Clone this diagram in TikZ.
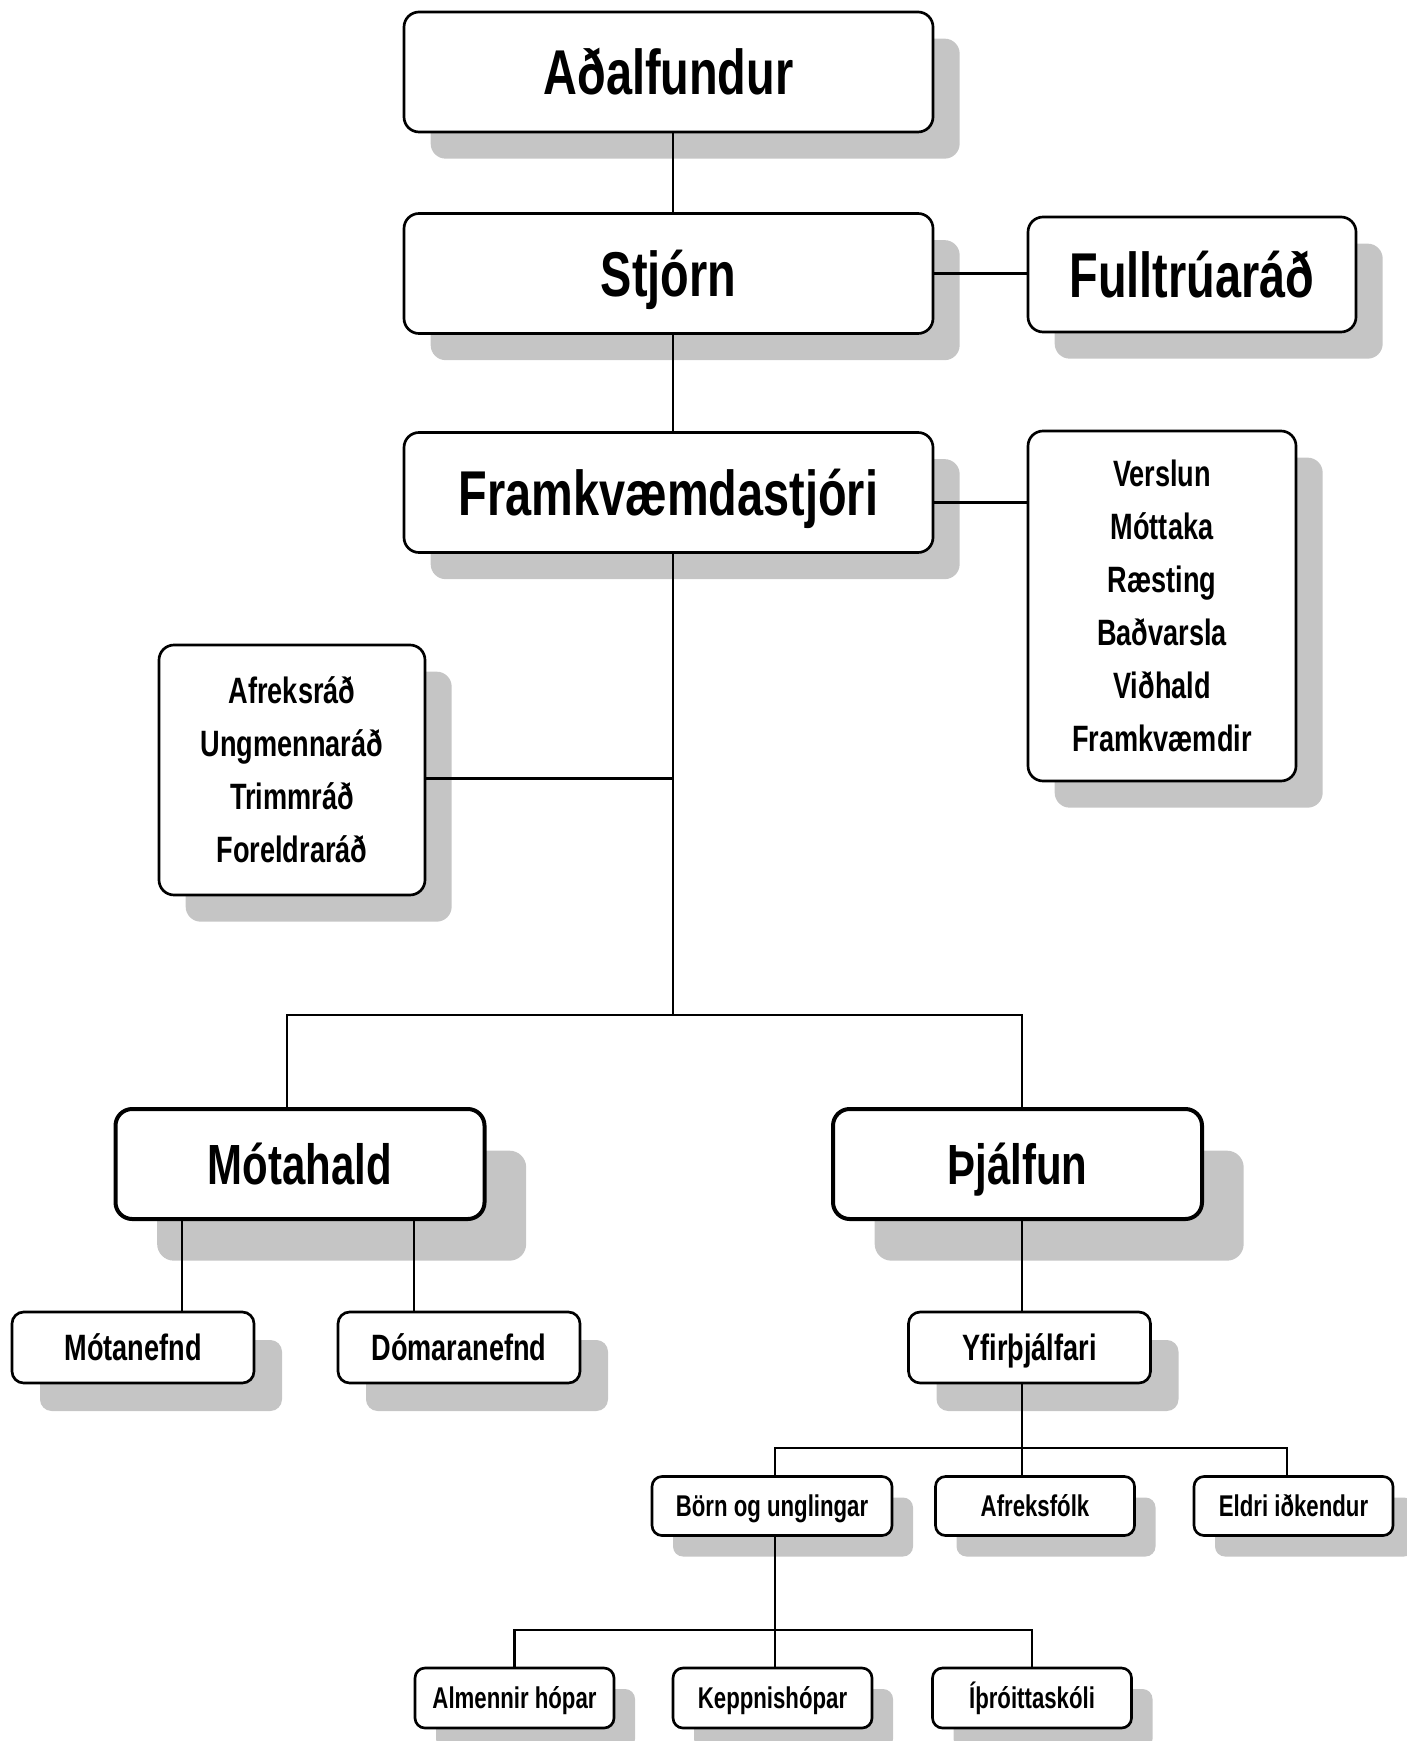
\documentclass[tikz,border=0pt]{standalone}
\usepackage{fontspec}
\usepackage{tikz}
\usetikzlibrary{positioning, shadows}

\newfontfamily\orgfont[FakeStretch=0.74]{Liberation Sans}
\definecolor{shadowC}{RGB}{197,197,197}

\begin{document}
\begin{tikzpicture}[
    x=0.3pt, y=-0.3pt,
    unit/.style={draw, fill=white, rectangle, align=center, inner sep=0pt},
    bigbox/.style={unit, rounded corners=4.5pt, line width=0.8pt,
                   minimum width=158.7pt, minimum height=36pt,
                   text height=13.7pt, text depth=0pt,
                   font=\orgfont\bfseries\fontsize{19}{22}\selectfont,
                   drop shadow={shadow xshift=8pt, shadow yshift=-8pt, fill=shadowC, opacity=1}},
    listbox/.style={unit, rounded corners=4.5pt, line width=0.8pt,
                    font=\orgfont\bfseries\fontsize{11}{15.9}\selectfont,
                    drop shadow={shadow xshift=8pt, shadow yshift=-8pt, fill=shadowC, opacity=1}},
    midbox/.style={unit, rounded corners=5pt, line width=1.2pt,
                   minimum width=110.7pt, minimum height=33pt,
                   text height=12.2pt, text depth=0pt,
                   font=\orgfont\bfseries\fontsize{17}{20}\selectfont,
                   drop shadow={shadow xshift=12.5pt, shadow yshift=-12.5pt, fill=shadowC, opacity=1}},
    smallbox/.style={unit, rounded corners=3.5pt, line width=0.8pt,
                     minimum width=72.6pt, minimum height=21.3pt,
                     text height=7.9pt, text depth=0pt,
                     font=\orgfont\bfseries\fontsize{11}{13}\selectfont,
                     drop shadow={shadow xshift=8.4pt, shadow yshift=-8.4pt, fill=shadowC, opacity=1}},
    tinybox/.style={unit, rounded corners=3pt, line width=0.8pt,
                    minimum width=59.7pt, minimum height=17.7pt,
                    text height=6.5pt, text depth=0pt,
                    font=\orgfont\bfseries\fontsize{9}{11}\selectfont,
                    drop shadow={shadow xshift=6.3pt, shadow yshift=-6.3pt, fill=shadowC, opacity=1}},
    link/.style={draw, line width=0.7pt},
]

\useasboundingbox (0,0) rectangle (1406,1741);

% Top of the chart
\node[bigbox] (adal) at (668.5,72) {Aðalfundur};
\node[bigbox] (stjorn) at (668.5,273.5) {Stjórn};
\node[bigbox, minimum width=98.4pt, minimum height=34.5pt] (fulltrua) at (1192,274.5) {Fulltrúaráð};
\node[bigbox] (framkv) at (668.5,492.5) {Framkvæmdastjóri};

% Side lists
\node[listbox, minimum width=80.4pt, minimum height=105pt] (rlist) at (1162,606)
  {Verslun\\Móttaka\\Ræsting\\Baðvarsla\\Viðhald\\Framkvæmdir};
\node[listbox, minimum width=79.8pt, minimum height=75pt] (llist) at (292,770)
  {Afreksráð\\Ungmennaráð\\Trimmráð\\Foreldraráð};

% Divisions
\node[midbox] (motahald) at (300,1164) {Mótahald};
\node[midbox] (thjalfun) at (1017.5,1164) {Þjálfun};

\node[smallbox] (motanefnd) at (133,1347.5) {Mótanefnd};
\node[smallbox] (domara) at (459,1347.5) {Dómaranefnd};
\node[smallbox] (yfir) at (1029.5,1347.5) {Yfirþjálfari};

% Training groups
\node[tinybox, minimum width=72pt] (born) at (772,1506) {Börn og unglingar};
\node[tinybox] (afreks) at (1035,1506) {Afreksfólk};
\node[tinybox] (eldri) at (1293.5,1506) {Eldri iðkendur};

\node[tinybox, minimum height=18pt] (almennir) at (514.5,1698) {Almennir hópar};
\node[tinybox, minimum height=18pt] (keppni) at (772.5,1698) {Keppnishópar};
\node[tinybox, minimum height=18pt] (ithrotta) at (1032,1698) {Íþróittaskóli};

% Junctions
\coordinate (spine) at (673,1015);
\coordinate (mcol1) at (182,0);
\coordinate (mcol2) at (414,0);
\coordinate (ycol) at (1022,0);
\coordinate (ecol) at (1287,0);
\coordinate (fork) at (1022,1448);
\coordinate (bfork) at (775,1630);

% Connectors
\draw[link] (adal.south -| spine) -- (stjorn.north -| spine);
\draw[link] (stjorn.east) -- (stjorn.east -| fulltrua.west);
\draw[link] (stjorn.south -| spine) -- (framkv.north -| spine);
\draw[link] ([yshift=-3pt]framkv.east) -- ([yshift=-3pt]framkv.east -| rlist.west);
\draw[link] (framkv.south -| spine) -- (spine);
\draw[link] ([yshift=-2.5pt]llist.east) -- ([yshift=-2.5pt]llist.east -| spine);
\draw[link] ([xshift=-4pt]motahald.north) |- (spine) -| (thjalfun.north -| ycol);
\draw[link] (motahald.south -| mcol1) -- (motanefnd.north -| mcol1);
\draw[link] (motahald.south -| mcol2) -- (domara.north -| mcol2);
\draw[link] (thjalfun.south -| ycol) -- (yfir.north -| ycol);
\draw[link] (yfir.south -| ycol) -- (afreks.north -| ycol);
\draw[link] (born.north -| bfork) |- (fork) -| (eldri.north -| ecol);
\draw[link] (born.south -| bfork) -- (keppni.north -| bfork);
\draw[link] (almennir.north) |- (bfork) -| (ithrotta.north);

\end{tikzpicture}
\end{document}
